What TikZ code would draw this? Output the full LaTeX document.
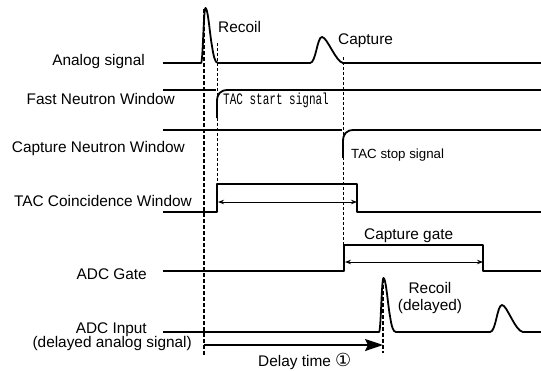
\documentclass[tikz,border=0pt]{standalone}
\usepackage{fontspec}
\setmainfont{Liberation Sans}
\newfontfamily\monofont{Liberation Mono}
\newfontfamily\symfont{DejaVu Sans}
\usetikzlibrary{arrows.meta}
\begin{document}
\begin{tikzpicture}[x=1pt,y=-1pt,
  sig/.style={line width=1.8pt, line join=round},
  lbl/.style={font=\fontsize{15.4}{17}\selectfont, inner sep=0pt},
  smalllbl/.style={font=\fontsize{13.3}{15}\selectfont, inner sep=0pt},
  thickdash/.style={line width=2.8pt, dash pattern=on 4pt off 2pt},
  thindash/.style={line width=0.8pt, dash pattern=on 3pt off 2pt},
  span/.style={line width=0.9pt, {Stealth[length=6pt,width=4.5pt]}-{Stealth[length=6pt,width=4.5pt]}},
  delay/.style={line width=2pt, -{Stealth[length=18pt,width=12pt,inset=3pt]}},
]
\useasboundingbox (0,0) rectangle (541,370);

% row labels
\node[lbl, anchor=base east] (l1) at (145,65) {Analog signal};
\node[lbl, anchor=base east] (l2) at (175,104) {Fast Neutron Window};
\node[lbl, anchor=base east] (l3) at (185,152) {Capture Neutron Window};
\node[lbl, anchor=base east] (l4) at (192,206) {TAC Coincidence Window};
\node[lbl, anchor=base east] (l5) at (147,279) {ADC Gate};
\node[lbl, anchor=base east] (l6) at (147,333) {ADC Input};
\node[lbl, anchor=base east] (l7) at (192,347) {(delayed analog signal)};

% annotations
\node[lbl, anchor=base west] (recoil) at (218,32) {Recoil};
\node[lbl, anchor=base west] (capture) at (338,44) {Capture};
\node[inner sep=0pt, anchor=base west] (tacstart) at (223,104)
  {\scalebox{1}[1.45]{\fontsize{11}{13}\monofont TAC start signal}};
\node[smalllbl, anchor=base west] (tacstop) at (351,158) {TAC stop signal};
\node[lbl, anchor=base west] (capgate) at (364,239) {Capture gate};
\node[lbl, anchor=base] (recoil2) at (430,293) {Recoil};
\node[lbl, anchor=base] (delayed) at (430,310) {(delayed)};
\node[lbl, anchor=base west] (delaytime) at (258,366) {Delay time {\fontsize{18}{18}\symfont ①}};

% analog signal
\draw[sig] (163,63) -- (201,63)
  .. controls (203,63) and (203.5,8) .. (205.5,8)
  .. controls (208,8) and (210,36) .. (212,46)
  .. controls (213.5,56) and (215,63) .. (218,63) -- (310,63)
  .. controls (316,63) and (317,37) .. (322,37)
  .. controls (327,37) and (336,62) .. (343,63) -- (541,63);

% fast neutron window
\draw[sig] (163,90) -- (216,90);
\draw[sig] (217,118) -- (217,102) .. controls (217,94) and (220,90) .. (228,90) -- (541,90);

% capture neutron window
\draw[sig] (163,130) -- (342,130);
\draw[sig] (343,158) -- (343,142) .. controls (343,134) and (346,130) .. (354,130) -- (541,130);

% TAC coincidence window
\draw[sig] (163,212) -- (217,212) -- (217,184) -- (357,184) -- (357,212) -- (541,212);
\coordinate (tacL) at (218,202);
\coordinate (tacR) at (357,202);
\draw[span] (tacL) -- (tacR);

% ADC gate
\draw[sig] (163,271) -- (344,271) -- (344,245) -- (483,245) -- (483,271) -- (541,271);
\coordinate (gateL) at (345,262);
\coordinate (gateR) at (483,262);
\draw[span] (gateL) -- (gateR);

% ADC input
\draw[sig] (163,332) -- (379,332)
  .. controls (381,332) and (381.5,278) .. (383.5,278)
  .. controls (386,278) and (388,306) .. (390,316)
  .. controls (391.5,326) and (393,332) .. (396,332) -- (490,332)
  .. controls (496,332) and (497,305) .. (502,305)
  .. controls (507,305) and (515,331) .. (523,332) -- (541,332);

% time markers
\coordinate (t0top) at (204,9);
\coordinate (t0bot) at (204,356);
\draw[thickdash] (t0top) -- (t0bot);
\coordinate (t1top) at (383,279);
\coordinate (t1bot) at (383,353);
\draw[thickdash] (t1top) -- (t1bot);
\coordinate (s0top) at (217,43);
\coordinate (s0bot) at (217,184);
\draw[thindash] (s0top) -- (s0bot);
\coordinate (s1top) at (343.5,57);
\coordinate (s1bot) at (343.5,245);
\draw[thindash] (s1top) -- (s1bot);

% delay arrow
\coordinate (dL) at (204,345);
\coordinate (dR) at (383,345);
\draw[delay] (dL) -- (dR);
\end{tikzpicture}
\end{document}
